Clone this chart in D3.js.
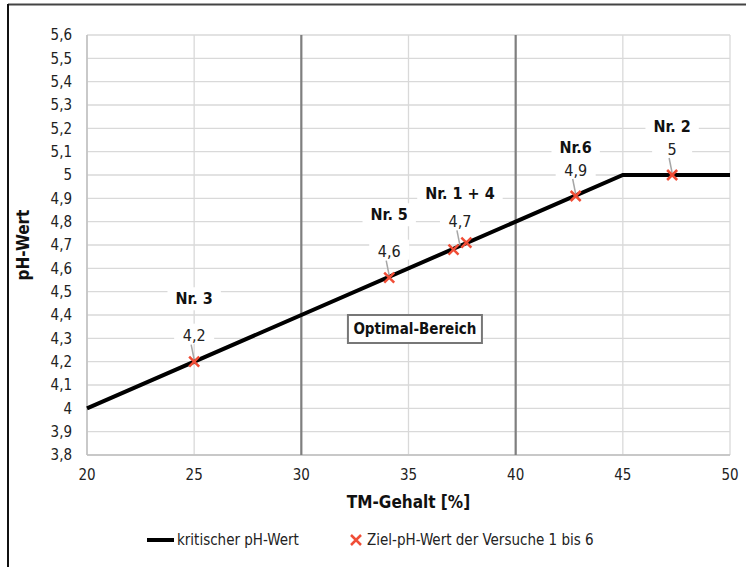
<!DOCTYPE html>
<html>
<head>
<meta charset="utf-8">
<script src="https://cdn.jsdelivr.net/npm/d3@7"></script>
<style>
  body { margin: 0; background: #fff; }
  svg { display: block; font-family: "Liberation Sans Narrow", "DejaVu Sans Condensed", "Open Sans", sans-serif; }
</style>
</head>
<body>
<svg id="chart" width="746" height="567"></svg>
<script>
'use strict';

// kritischer pH-Wert (Linie)
const lineTM = [20, 45, 50]
const linePH = [4.0, 5.0, 5.0]

// Ziel-pH-Werte der Versuche
const trialNames = ['Nr. 3', 'Nr. 5', 'Nr. 1', 'Nr. 4', 'Nr.6', 'Nr. 2']
const trialTM    = [25, 34.1, 37.1, 37.7, 42.8, 47.3]
const trialPH    = [4.2, 4.56, 4.68, 4.71, 4.91, 5.0]

// Beschriftungen (Text, Wert, Anker in Datenkoordinaten)
const labelNames  = ['Nr. 3', 'Nr. 5', 'Nr. 1 + 4', 'Nr.6', 'Nr. 2']
const labelValues = ['4,2', '4,6', '4,7', '4,9', '5']
const labelTM     = [25, 34.1, 37.4, 42.8, 47.3]
const labelPH     = [4.2, 4.56, 4.69, 4.91, 5.0]
const labelNamePH = [4.47, 4.83, 4.92, 5.12, 5.21]

const xTicks = [20, 25, 30, 35, 40, 45, 50]
const yTicks = d3.range(38, 57).map((v) => v / 10)
const zoneBounds = [30, 40]

const svg = d3.select('#chart')
const margin = { left: 87, right: 16, top: 35, bottom: 112 }
const W = 746, H = 567

const x = d3.scaleLinear().domain([20, 50]).range([margin.left, W - margin.right])
const y = d3.scaleLinear().domain([3.8, 5.6]).range([H - margin.bottom, margin.top])
const fmt = (v) => String(+v.toFixed(1)).replace('.', ',')

// outer frame
svg.append('line').attr('x1', 8).attr('x2', 746).attr('y1', 4.5).attr('y2', 4.5)
  .attr('stroke', '#444').attr('stroke-width', 2)
svg.append('line').attr('x1', 8).attr('x2', 8).attr('y1', 4).attr('y2', 567)
  .attr('stroke', '#111').attr('stroke-width', 2)

// grid
svg.append('g')
  .selectAll('line')
  .data(yTicks)
  .enter()
  .append('line')
    .attr('x1', x(20)).attr('x2', x(50))
    .attr('y1', (d) => y(d)).attr('y2', (d) => y(d))
    .attr('stroke', '#d9d9d9').attr('stroke-width', 1.3)

svg.append('g')
  .selectAll('line')
  .data(xTicks)
  .enter()
  .append('line')
    .attr('x1', (d) => x(d)).attr('x2', (d) => x(d))
    .attr('y1', y(3.8)).attr('y2', y(5.6))
    .attr('stroke', '#d9d9d9').attr('stroke-width', 1.3)

// axes lines (left + bottom slightly darker)
svg.append('line').attr('x1', x(20)).attr('x2', x(20)).attr('y1', y(3.8)).attr('y2', y(5.6))
  .attr('stroke', '#bfbfbf').attr('stroke-width', 1.5)
svg.append('line').attr('x1', x(20)).attr('x2', x(50)).attr('y1', y(3.8)).attr('y2', y(3.8))
  .attr('stroke', '#bfbfbf').attr('stroke-width', 1.5)

// zone lines
svg.append('g')
  .selectAll('line')
  .data(zoneBounds)
  .enter()
  .append('line')
    .attr('x1', (d) => x(d)).attr('x2', (d) => x(d))
    .attr('y1', y(3.8)).attr('y2', y(5.6))
    .attr('stroke', '#7f7f7f').attr('stroke-width', 2.2)

// tick labels
svg.append('g')
  .selectAll('text')
  .data(yTicks)
  .enter()
  .append('text')
    .attr('x', x(20) - 15)
    .attr('y', (d) => y(d))
    .attr('dy', '0.35em')
    .attr('text-anchor', 'end')
    .attr('font-size', 15)
    .attr('fill', '#222')
    .text(fmt)

svg.append('g')
  .selectAll('text')
  .data(xTicks)
  .enter()
  .append('text')
    .attr('x', (d) => x(d))
    .attr('y', y(3.8) + 25)
    .attr('text-anchor', 'middle')
    .attr('font-size', 15)
    .attr('fill', '#222')
    .text((d) => d)

// axis titles
svg.append('text')
  .attr('transform', `translate(29,${(y(3.8) + y(5.6)) / 2}) rotate(-90)`)
  .attr('text-anchor', 'middle')
  .attr('font-size', 17).attr('font-weight', 'bold').attr('fill', '#111')
  .text('pH-Wert')

svg.append('text')
  .attr('x', (x(20) + x(50)) / 2)
  .attr('y', y(3.8) + 53)
  .attr('text-anchor', 'middle')
  .attr('font-size', 17).attr('font-weight', 'bold').attr('fill', '#111')
  .text('TM-Gehalt [%]')

// critical line
const lineData = lineTM.map((t, i) => [t, linePH[i]])
svg.append('path')
  .datum(lineData)
  .attr('d', d3.line().x((d) => x(d[0])).y((d) => y(d[1])))
  .attr('fill', 'none').attr('stroke', '#000').attr('stroke-width', 4)

// Optimal-Bereich box
const box = svg.append('g').attr('transform', `translate(${x(35.3)},${y(4.34)})`)
box.append('rect').attr('x', -67).attr('y', -14).attr('width', 134).attr('height', 28)
  .attr('fill', '#fff').attr('stroke', '#777').attr('stroke-width', 2)
box.append('text').attr('text-anchor', 'middle').attr('dy', '0.35em')
  .attr('font-size', 15).attr('font-weight', 'bold').attr('fill', '#111')
  .text('Optimal-Bereich')

// labels: leader lines, values, names
const labels = labelNames.map((n, i) => ({
  name: n, value: labelValues[i], tm: labelTM[i], ph: labelPH[i], namePh: labelNamePH[i]
}))

const lg = svg.append('g')
lg.selectAll('line.leader')
  .data(labels)
  .enter()
  .append('line')
    .attr('class', 'leader')
    .attr('x1', (d) => x(d.tm)).attr('x2', (d) => x(d.tm) - 3)
    .attr('y1', (d) => y(d.ph) - 2).attr('y2', (d) => y(d.ph) - 17)
    .attr('stroke', '#a6a6a6').attr('stroke-width', 1.5)

lg.selectAll('rect.vbg')
  .data(labels)
  .enter()
  .append('rect')
    .attr('x', (d) => x(d.tm) - 20).attr('y', (d) => y(d.ph) - 38)
    .attr('width', 40).attr('height', 20)
    .attr('fill', '#fff')

lg.selectAll('text.val')
  .data(labels)
  .enter()
  .append('text')
    .attr('x', (d) => x(d.tm))
    .attr('y', (d) => y(d.ph) - 26)
    .attr('dy', '0.35em')
    .attr('text-anchor', 'middle')
    .attr('font-size', 16).attr('fill', '#222')
    .text((d) => d.value)

const nameTexts = lg.selectAll('text.name')
  .data(labels)
  .enter()
  .append('text')
    .attr('x', (d) => x(d.tm))
    .attr('y', (d) => y(d.namePh))
    .attr('dy', '0.35em')
    .attr('text-anchor', 'middle')
    .attr('font-size', 16).attr('font-weight', 'bold').attr('fill', '#111')
    .text((d) => d.name)

nameTexts.each(function () {
  const b = this.getBBox()
  d3.select(this.parentNode).insert('rect', () => this)
    .attr('x', b.x - 8).attr('y', b.y - 2)
    .attr('width', b.width + 16).attr('height', b.height + 4)
    .attr('fill', '#fff')
})

// markers
const cross = (g, cx, cy, r, w) => {
  g.append('path')
    .attr('d', `M${cx - r},${cy - r}L${cx + r},${cy + r}M${cx - r},${cy + r}L${cx + r},${cy - r}`)
    .attr('stroke', '#f04e37').attr('stroke-width', w).attr('fill', 'none')
}
const mg = svg.append('g')
trialTM.forEach((t, i) => cross(mg, x(t), y(trialPH[i]), 5, 2.5))

// legend
const leg = svg.append('g')
leg.append('line').attr('x1', 147).attr('x2', 174).attr('y1', 540).attr('y2', 540)
  .attr('stroke', '#000').attr('stroke-width', 4)
leg.append('text').attr('x', 177).attr('y', 540).attr('dy', '0.35em')
  .attr('font-size', 15).attr('fill', '#222').text('kritischer pH-Wert')
cross(leg, 356, 540, 5, 2.5)
leg.append('text').attr('x', 367).attr('y', 540).attr('dy', '0.35em')
  .attr('font-size', 15).attr('fill', '#222').text('Ziel-pH-Wert der Versuche 1 bis 6')
</script>
</body>
</html>
